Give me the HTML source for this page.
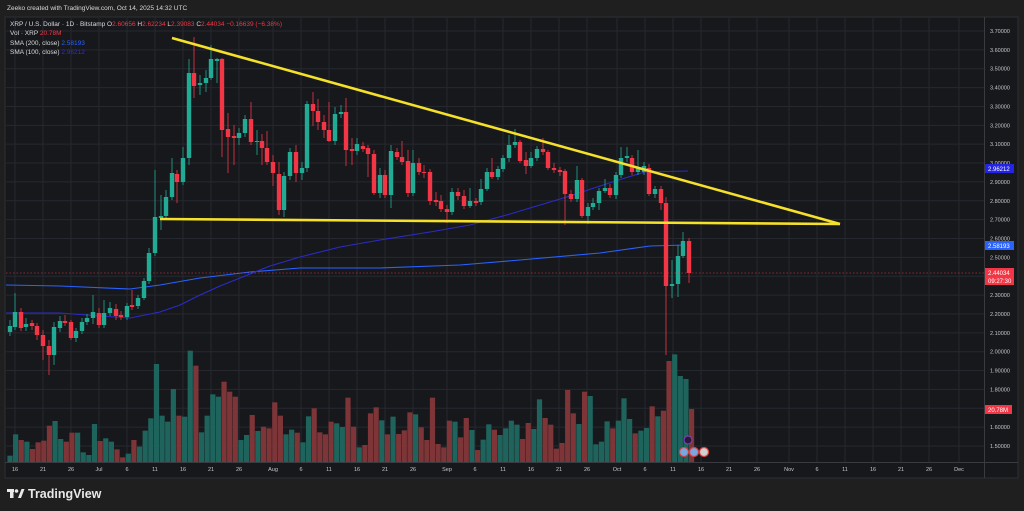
<!DOCTYPE html>
<html><head><meta charset="utf-8"><style>
html,body{margin:0;padding:0;background:#1f1f1f;width:1024px;height:511px;overflow:hidden;font-family:"Liberation Sans",sans-serif;}
svg{display:block}
</style></head><body>
<svg id="s" width="1024" height="511" xmlns="http://www.w3.org/2000/svg">
<rect x="0" y="0" width="1024" height="511" fill="#1f1f1f"/>
<text x="7" y="10" fill="#d8d8d8" font-size="6.5">Zeeko created with TradingView.com, Oct 14, 2025 14:32 UTC</text>
<rect x="5" y="17" width="1013" height="461" fill="#17181c" stroke="#2e2f33" stroke-width="1"/>
<g id="grid"></g>
<g id="ma"></g>
<g id="vol"></g>
<g id="cand"></g>
<line x1="6" y1="273" x2="984" y2="273" stroke="#f23645" stroke-width="0.8" stroke-dasharray="1.5,2" opacity="0.7"/>
<line x1="172" y1="38" x2="840" y2="224" stroke="#f5e02a" stroke-width="2.6"/>
<line x1="160" y1="219" x2="840" y2="224" stroke="#f5e02a" stroke-width="2.6"/>
<line x1="984.5" y1="17" x2="984.5" y2="478" stroke="#3a3b40"/>
<line x1="5" y1="462.5" x2="1018" y2="462.5" stroke="#3a3b40"/>
<g id="lab" font-size="5.5" fill="#c8c8c8"></g>
<g font-size="6.5">
<text x="10" y="26" fill="#d8d8d8">XRP / U.S. Dollar · 1D · Bitstamp <tspan>O</tspan><tspan fill="#f23645">2.60656</tspan> H<tspan fill="#f23645">2.62234</tspan> L<tspan fill="#f23645">2.39083</tspan> C<tspan fill="#f23645">2.44034 −0.16639 (−6.38%)</tspan></text>
<text x="10" y="35" fill="#d8d8d8">Vol · XRP <tspan fill="#f23645">20.78M</tspan></text>
<text x="10" y="45" fill="#d8d8d8">SMA (200, close) <tspan fill="#2962ff">2.58193</tspan></text>
<text x="10" y="54" fill="#d8d8d8">SMA (100, close) <tspan fill="#2f2fd0">2.96212</tspan></text>
</g>
<rect x="985" y="164" width="29" height="9" fill="#2424e6"/>
<text x="988" y="171" font-size="6" fill="#fff">2.96212</text>
<rect x="985" y="241" width="29" height="9" fill="#2962ff"/>
<text x="988" y="248" font-size="6" fill="#fff">2.58193</text>
<rect x="985" y="268" width="29" height="17" fill="#f23645"/>
<text x="988" y="275" font-size="6" fill="#fff">2.44034</text>
<text x="988" y="283" font-size="6" fill="#fff">09:27:30</text>
<rect x="985" y="405" width="27" height="9" fill="#f23645"/>
<text x="988" y="412" font-size="6" fill="#fff">20.78M</text>
<circle cx="688" cy="440" r="4" fill="#2a1a3a" stroke="#8a3fd0" stroke-width="1"/>
<circle cx="684" cy="452" r="4.5" fill="#7aa7e0" stroke="#e04040" stroke-width="1.2"/>
<circle cx="694" cy="452" r="4.5" fill="#7aa7e0" stroke="#e04040" stroke-width="1.2"/>
<circle cx="704" cy="452" r="4.5" fill="#d0d0d0" stroke="#e04040" stroke-width="1.2"/>
<g transform="translate(7,489)" fill="#e8e8e8">
<rect x="0" y="0" width="7" height="3"/><rect x="3" y="0" width="3.5" height="9"/>
<circle cx="9.5" cy="2" r="1.8"/><polygon points="11,9 14.5,0 17.5,0 14,9"/>
</g>
<text x="28" y="498" font-size="12.5" fill="#e8e8e8" font-weight="bold">TradingView</text>
</svg>
<script>
var NS="http://www.w3.org/2000/svg";
function el(p,t,a){var e=document.createElementNS(NS,t);for(var k in a)e.setAttribute(k,a[k]);document.getElementById(p).appendChild(e);return e;}
// grid
for(var i=0;i<=22;i++){var y=31+i*18.864;el('grid','line',{x1:6,x2:984,y1:y,y2:y,stroke:'#262830','stroke-width':1});
var v=(3.7-i*0.1).toFixed(5);var t=el('lab','text',{x:990,y:y+2});t.textContent=v;}
var tk=[[15,'16'],[43,'21'],[71,'26'],[99,'Jul'],[127,'6'],[155,'11'],[183,'16'],[211,'21'],[239,'26'],[273,'Aug'],[301,'6'],[329,'11'],[357,'16'],[385,'21'],[413,'26'],[447,'Sep'],[475,'6'],[503,'11'],[531,'16'],[559,'21'],[587,'26'],[617,'Oct'],[645,'6'],[673,'11'],[701,'16'],[729,'21'],[757,'26'],[789,'Nov'],[817,'6'],[845,'11'],[873,'16'],[901,'21'],[929,'26'],[959,'Dec']];
tk.forEach(function(a){el('grid','line',{x1:a[0],x2:a[0],y1:18,y2:462,stroke:'#262830','stroke-width':1});var t=el('lab','text',{x:a[0],y:471,'text-anchor':'middle'});t.textContent=a[1];});
// MAs
el('ma','polyline',{points:'6,285 60,286 130,289 160,285 200,278 250,272 300,268 380,268 460,265 520,260 600,253 650,246 685,245',fill:'none',stroke:'#2962ff','stroke-width':1.1});
el('ma','polyline',{points:'6,313 60,313 100,316 130,318 160,312 180,305 200,295 220,286 240,278 270,266 300,257 340,247 380,240 430,232 470,225 510,214 540,205 570,196 600,186 625,178 645,172 688,171',fill:'none',stroke:'#2b2bc8','stroke-width':1.1});
// volume
var V="332g,268g,285r,290g,312r,292r,287r,242r,228g,282g,290r,263r,263g,322g,330g,237g,288r,280g,290g,313r,337r,326g,285r,305g,257g,220g,57g,212g,230g,132g,212r,215g,17g,62r,262g,212g,148g,155g,110r,140r,155r,285g,270g,210r,258g,245r,250r,172r,212r,268g,254g,263r,292g,214g,190r,262r,268r,230r,235g,246g,158r,245r,307g,300r,205r,187r,226g,268r,215g,267r,256r,202r,208g,247r,285r,158r,297r,307r,227r,230g,277r,219r,255g,315r,284g,238g,254r,270g,250g,227g,239g,282r,234r,252g,163g,219r,239r,311r,294r,135r,205r,237g,140r,153g,298g,290g,229g,250r,227g,160g,222g,265r,257g,249g,184r,214g,197r,48r,28g,93g,102g,192r".split(',');
V.forEach(function(s,i){var x=10+i*5.633;var top=345+parseInt(s)/3;el('vol','rect',{x:x-2.6,y:top,width:5.2,height:462-top,fill:s.slice(-1)=='g'?'#1f645c':'#7d3538'});});
// candles [x,top,bot,high,low,c]
var C=[[10,326,332,320,336,'g'],[15,312,327,293,330,'g'],[21,312,328,308,331,'r'],[26,324,327,318,331,'g'],[32,323,326,320,330,'r'],[37,326,335,323,340,'r'],[43,335,346,330,360,'r'],[49,346,355,340,375,'r'],[54,327,355,322,365,'g'],[60,321,328,316,332,'g'],[65,321,323,315,326,'r'],[71,322,338,320,340,'r'],[76,331,338,328,342,'g'],[82,322,331,318,334,'g'],[87,318,322,314,325,'g'],[93,312,318,295,324,'g'],[99,313,325,308,328,'r'],[104,313,325,300,328,'g'],[110,308,313,302,316,'g'],[116,309,316,304,320,'r'],[121,315,317,311,320,'r'],[127,306,317,303,320,'g'],[132,305,307,290,310,'r'],[138,298,306,295,309,'g'],[144,281,298,278,300,'g'],[149,253,281,248,284,'g'],[155,217,253,170,256,'g'],[161,216,218,195,230,'g'],[166,197,216,190,218,'g'],[172,173,197,158,200,'g'],[177,174,182,170,203,'r'],[183,158,182,147,185,'g'],[189,73,158,59,165,'g'],[194,73,86,37,98,'r'],[200,83,85,75,95,'g'],[206,78,83,70,92,'g'],[211,59,78,45,80,'g'],[217,59,61,58,83,'g'],[222,59,130,58,157,'r'],[228,129,137,113,173,'r'],[234,136,138,125,165,'r'],[239,133,138,128,145,'g'],
[245,119,133,115,137,'g'],[251,119,142,102,145,'r'],[257,141,142,130,155,'g'],[262,141,148,134,165,'r'],[267,148,162,131,165,'r'],[273,162,173,155,186,'r'],[279,174,210,162,215,'r'],[284,176,210,172,217,'g'],[290,152,176,148,180,'g'],[296,152,173,145,182,'r'],[302,168,173,162,180,'g'],[307,104,168,101,172,'g'],[313,104,111,92,126,'r'],[318,111,122,99,130,'r'],[324,122,130,115,138,'r'],[329,130,141,102,142,'r'],[335,114,141,107,145,'g'],[341,112,114,105,118,'g'],[346,112,150,98,166,'r'],[352,149,151,138,165,'r'],[357,144,151,138,155,'g'],[363,146,149,142,152,'r'],[368,148,154,145,177,'r'],[374,154,193,150,195,'r'],[380,175,193,168,198,'g'],[385,175,195,170,198,'r'],[391,151,195,145,208,'g'],[397,152,157,148,160,'r'],[402,157,162,141,165,'r'],[408,161,193,150,197,'r'],[413,163,193,150,196,'g'],[419,163,172,158,175,'r'],[424,172,173,165,178,'r'],[430,172,201,169,205,'r'],[436,200,202,192,206,'r'],[441,201,209,195,212,'r'],[447,209,212,205,223,'r'],[452,192,212,188,215,'g'],
[458,192,196,188,200,'r'],[464,196,206,190,209,'r'],[470,201,206,188,208,'g'],[476,201,203,198,206,'r'],[481,189,202,179,205,'g'],[487,172,189,168,191,'g'],[492,172,177,158,179,'r'],[498,169,177,166,180,'g'],[503,158,169,155,172,'g'],[509,145,158,135,162,'g'],[515,142,145,129,148,'g'],[520,142,161,140,163,'r'],[526,160,166,152,174,'r'],[531,158,166,152,168,'g'],[537,149,158,146,161,'g'],[543,149,152,138,155,'r'],[548,152,168,150,170,'r'],[554,168,170,163,173,'r'],[560,170,172,167,176,'r'],[565,171,194,169,225,'r'],[571,194,199,190,202,'r'],[577,180,199,166,202,'g'],[582,180,216,178,218,'r'],[588,207,216,203,224,'g'],[593,203,207,198,210,'g'],[599,191,203,188,210,'g'],[605,188,191,179,193,'g'],[610,188,195,184,198,'r'],[616,175,195,172,199,'g'],[621,158,175,147,178,'g'],[627,156,158,147,162,'g'],[632,158,172,155,175,'r'],[638,167,172,150,175,'g'],[644,166,172,162,175,'g'],[649,168,194,164,196,'r'],[655,189,194,186,198,'g'],[661,189,203,186,210,'r'],[666,203,286,197,355,'r'],[672,284,286,260,298,'g'],[678,256,284,245,297,'g'],[683,241,256,232,258,'g'],[689,241,273,238,283,'r']];
C.forEach(function(c){var col=c[5]=='g'?'#22ab94':'#f23645';el('cand','line',{x1:c[0],x2:c[0],y1:c[3],y2:c[4],stroke:col,'stroke-width':0.8});var h=Math.max(1,c[2]-c[1]);el('cand','rect',{x:c[0]-2.2,y:c[1],width:4.4,height:h,fill:col});});
</script>
</body></html>
